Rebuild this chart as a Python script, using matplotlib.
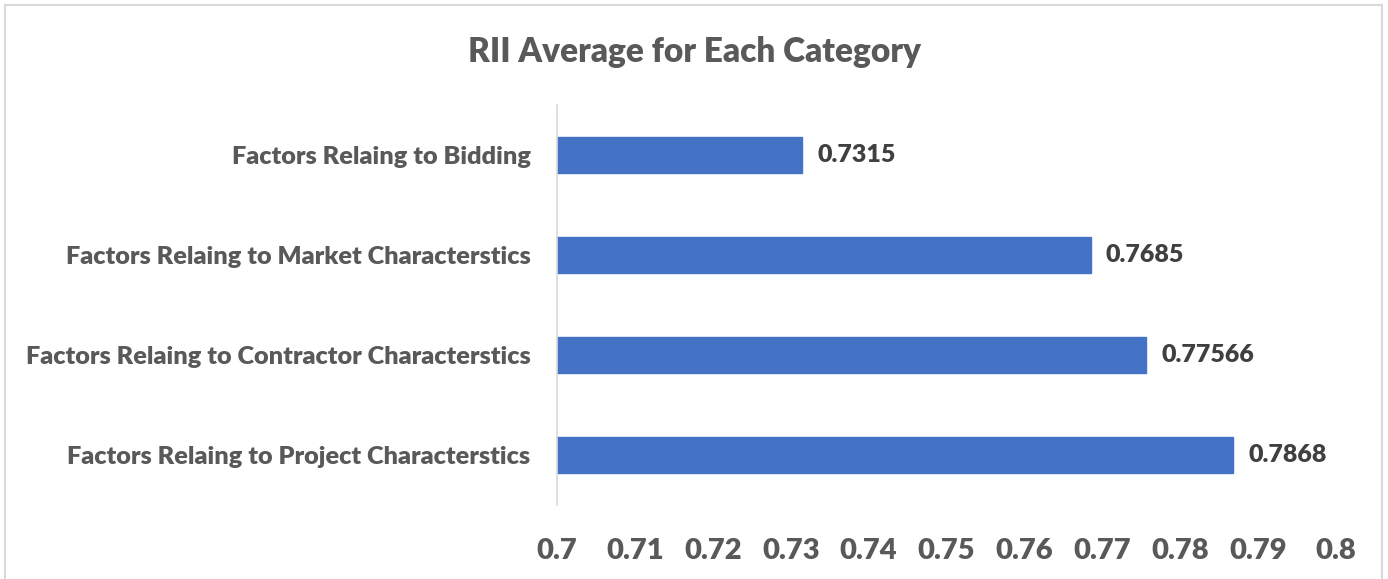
import matplotlib
matplotlib.use("Agg")
import matplotlib.pyplot as plt
from matplotlib.patches import Rectangle

plt.rcParams['font.family'] = ['Lato', 'DejaVu Sans']

categories = [
    "Factors Relaing to Project Characterstics",
    "Factors Relaing to Contractor Characterstics",
    "Factors Relaing to Market Characterstics",
    "Factors Relaing to Bidding",
]
values = [0.7868, 0.77566, 0.7685, 0.7315]
value_labels = ["0.7868", "0.77566", "0.7685", "0.7315"]
xticks = [0.70, 0.71, 0.72, 0.73, 0.74, 0.75, 0.76, 0.77, 0.78, 0.79, 0.80]
xtick_labels = ["0.7", "0.71", "0.72", "0.73", "0.74", "0.75", "0.76", "0.77", "0.78", "0.79", "0.8"]

W, H = 1388, 579
fig = plt.figure(figsize=(W / 100, H / 100), dpi=100)
fig.patch.set_facecolor("white")

# chart-area border (bottom edge runs past the canvas)
fig.add_artist(Rectangle((5 / W, -0.02), (1382 - 5) / W, (H - 5) / H + 0.02,
                         transform=fig.transFigure, fill=False,
                         edgecolor="#d9d9d9", linewidth=1.5))

ax = fig.add_axes([557 / W, 1 - 505 / H, (1336 - 557) / W, 400 / H])
y = list(range(len(categories)))
ax.barh(y, [v - 0.7 for v in values], left=0.7, height=0.36,
        color="#4472C4", edgecolor="#4472C4")

ax.set_xlim(0.7, 0.8)
ax.set_ylim(-0.5, len(categories) - 0.5)
ax.set_yticks(y)
ax.set_yticklabels(categories, fontsize=18.2, fontweight="heavy", color="#595959")
ax.set_xticks(xticks)
ax.set_xticklabels(xtick_labels, fontsize=21, fontweight="heavy", color="#595959")
ax.tick_params(axis="y", length=0, pad=19)
ax.tick_params(axis="x", length=0, pad=24)

for s in ["top", "right", "bottom"]:
    ax.spines[s].set_visible(False)
ax.spines["left"].set_color("#d9d9d9")
ax.spines["left"].set_linewidth(1.2)

for yi, v, lab in zip(y, values, value_labels):
    ax.annotate(lab, (v, yi), xytext=(11, 0), textcoords="offset points",
                va="center", ha="left", fontsize=18, fontweight="heavy",
                color="#404040")

fig.text(0.5, 1 - 52 / H, "RII Average for Each Category", ha="center", va="center",
         fontsize=24, fontweight="heavy", color="#595959")

fig.savefig("out.png", dpi=100, facecolor="white")
